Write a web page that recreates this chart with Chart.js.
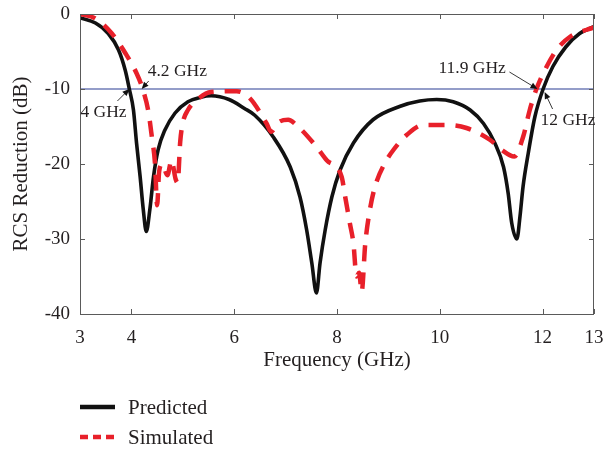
<!DOCTYPE html>
<html>
<head>
<meta charset="utf-8">
<script src="https://cdn.jsdelivr.net/npm/chart.js@4/dist/chart.umd.min.js"></script>
<style>
  html, body { margin: 0; padding: 0; background: #ffffff; }
  #wrap { width: 606px; height: 449px; }
</style>
</head>
<body>
<div id="wrap"><canvas id="c" width="606" height="449"></canvas></div>
<script>
// ---------------- data ----------------
const xTickValues = [3, 4, 6, 8, 10, 12, 13];
const yTickValues = [0, -10, -20, -30, -40];
const seriesNames = ['Predicted', 'Simulated'];

const predictedFreq = [3.00, 3.30, 3.55, 3.75, 3.88, 3.96, 4.04, 4.10, 4.17, 4.23, 4.29, 4.36, 4.43, 4.52, 4.65, 4.85, 5.10, 5.35, 5.55, 5.90, 6.20, 6.40, 6.76, 7.09, 7.28, 7.41, 7.51, 7.60, 7.67, 7.77, 7.90, 8.06, 8.32, 8.70, 9.23, 9.61, 9.94, 10.26, 10.59, 10.85, 11.07, 11.24, 11.33, 11.40, 11.50, 11.56, 11.62, 11.72, 11.85, 12.01, 12.20, 12.45, 12.72, 13.00];
const predictedDb   = [-0.5, -1.2, -2.6, -4.8, -7.5, -10.0, -12.8, -17.2, -21.7, -26.0, -29.0, -26.0, -21.7, -18.1, -15.5, -13.2, -11.7, -11.1, -10.9, -11.4, -12.6, -13.5, -16.4, -20.4, -24.4, -28.8, -33.2, -37.2, -33.2, -28.8, -24.4, -20.8, -17.2, -14.1, -12.3, -11.6, -11.4, -11.7, -12.8, -14.6, -17.2, -20.4, -23.9, -27.9, -30.0, -27.0, -23.0, -18.6, -13.7, -10.0, -7.0, -4.4, -2.6, -1.7];

const simulatedFreq = [3.00, 3.30, 3.62, 3.88, 4.10, 4.22, 4.33, 4.40, 4.46, 4.50, 4.54, 4.60, 4.70, 4.78, 4.86, 4.90, 4.95, 5.00, 5.10, 5.30, 5.55, 6.05, 6.30, 6.63, 6.72, 6.85, 7.05, 7.21, 7.60, 7.80, 8.09, 8.16, 8.25, 8.32, 8.38, 8.43, 8.48, 8.55, 8.64, 8.74, 8.93, 9.10, 9.36, 9.68, 10.13, 10.52, 10.98, 11.20, 11.45, 11.62, 11.75, 11.88, 12.08, 12.27, 12.54, 12.86, 13.00];
const simulatedDb   = [0.0, -0.6, -2.6, -5.2, -7.9, -10.0, -13.0, -16.5, -20.0, -25.5, -21.0, -20.0, -21.5, -19.5, -22.0, -22.5, -17.0, -14.5, -12.8, -11.3, -10.4, -10.3, -11.2, -14.6, -15.7, -14.5, -14.1, -14.8, -17.7, -19.5, -21.7, -24.4, -27.9, -30.6, -35.0, -34.5, -37.0, -30.6, -26.1, -23.0, -19.9, -18.1, -16.1, -14.8, -14.8, -15.2, -16.8, -18.1, -19.0, -16.4, -12.8, -10.0, -7.0, -4.8, -3.0, -2.1, -1.8];

const thresholdDb = -10;
const markerFreqs = [4.2, 4.0, 11.9, 12.0];
const markerLabels = ['4.2 GHz', '4 GHz', '11.9 GHz', '12 GHz'];

// ---------------- styles / layout ----------------
const FONT = '"Liberation Serif", "DejaVu Serif", serif';
const TEXT = '#231f20';
const AXIS = '#5a5a5a';
const BLACK = '#111111';
const RED = '#e8202a';
const BLUE = '#2b3c94';

// label offsets relative to the marker point (text anchor: left, middle), and arrow tail offsets
const markerStyle = [
  { tx: 6,   ty: -18, ax: 7,  ay: -8,  hx: 0,  hy: 0 },
  { tx: -49, ty: 23,  ax: -12, ay: 12, hx: -2, hy: 0 },
  { tx: -99, ty: -21, ax: -28, ay: -17, hx: 0, hy: 0 },
  { tx: -4,  ty: 28,  ax: 8,   ay: 17, hx: 2,  hy: 3 }
];

const toPts = (xs, ys) => xs.map((x, i) => ({ x: x, y: ys[i] }));

const overlay = {
  id: 'overlay',
  afterDatasetsDraw(chart) {
    const { ctx, chartArea: a, scales: { x, y } } = chart;
    ctx.save();
    // frame
    ctx.strokeStyle = AXIS;
    ctx.lineWidth = 1;
    ctx.strokeRect(Math.round(a.left) + 0.5, Math.round(a.top) + 0.5, Math.round(a.right - a.left) - 1, Math.round(a.bottom - a.top));
    // inward ticks
    const tl = 5;
    ctx.beginPath();
    xTickValues.forEach(v => {
      const px = Math.round(x.getPixelForValue(v)) + 0.5;
      ctx.moveTo(px, a.bottom); ctx.lineTo(px, a.bottom - tl);
      ctx.moveTo(px, a.top); ctx.lineTo(px, a.top + tl);
    });
    yTickValues.forEach(v => {
      const py = Math.round(y.getPixelForValue(v)) + 0.5;
      ctx.moveTo(a.left, py); ctx.lineTo(a.left + tl, py);
      ctx.moveTo(a.right, py); ctx.lineTo(a.right - tl, py);
    });
    ctx.stroke();

    // annotations
    ctx.font = '17.5px ' + FONT;
    ctx.fillStyle = TEXT;
    ctx.textBaseline = 'middle';
    ctx.textAlign = 'left';
    markerFreqs.forEach((f, i) => {
      const s = markerStyle[i];
      const px = x.getPixelForValue(f) + s.hx;
      const py = y.getPixelForValue(thresholdDb) + s.hy;
      ctx.fillText(markerLabels[i], px + s.tx, py + s.ty);
      const sx = px + s.ax, sy = py + s.ay;
      const ang = Math.atan2(py - sy, px - sx);
      ctx.strokeStyle = '#222';
      ctx.lineWidth = 0.9;
      ctx.beginPath();
      ctx.moveTo(sx, sy);
      ctx.lineTo(px - 5 * Math.cos(ang), py - 5 * Math.sin(ang));
      ctx.stroke();
      const hl = 7, hw = 3;
      ctx.fillStyle = '#111';
      ctx.beginPath();
      ctx.moveTo(px, py);
      ctx.lineTo(px - hl * Math.cos(ang) + hw * Math.sin(ang), py - hl * Math.sin(ang) - hw * Math.cos(ang));
      ctx.lineTo(px - hl * Math.cos(ang) - hw * Math.sin(ang), py - hl * Math.sin(ang) + hw * Math.cos(ang));
      ctx.closePath();
      ctx.fill();
      ctx.fillStyle = TEXT;
    });

    // legend
    const lx0 = 80, lx1 = 115, ly = [407, 437];
    ctx.lineCap = 'butt';
    ctx.lineWidth = 4.5;
    ctx.strokeStyle = BLACK;
    ctx.setLineDash([]);
    ctx.beginPath(); ctx.moveTo(lx0, ly[0]); ctx.lineTo(lx1, ly[0]); ctx.stroke();
    ctx.strokeStyle = RED;
    ctx.setLineDash([8, 5]);
    ctx.beginPath(); ctx.moveTo(lx0, ly[1]); ctx.lineTo(lx1 + 1, ly[1]); ctx.stroke();
    ctx.setLineDash([]);
    ctx.font = '21px ' + FONT;
    ctx.fillStyle = TEXT;
    ctx.fillText(seriesNames[0], 128, ly[0] + 1);
    ctx.fillText(seriesNames[1], 128, ly[1] + 1);
    ctx.restore();
  }
};

new Chart(document.getElementById('c'), {
  type: 'scatter',
  data: {
    datasets: [
      {
        label: seriesNames[1],
        data: toPts(simulatedFreq, simulatedDb),
        showLine: true, borderColor: RED, backgroundColor: RED,
        borderWidth: 4.5, borderDash: [16, 11], pointRadius: 0,
        cubicInterpolationMode: 'monotone', order: 1
      },
      {
        label: seriesNames[0],
        data: toPts(predictedFreq, predictedDb),
        showLine: true, borderColor: BLACK, backgroundColor: BLACK,
        borderWidth: 3.6, pointRadius: 0,
        cubicInterpolationMode: 'monotone', order: 2
      },
      {
        label: 'threshold',
        data: [{ x: xTickValues[0], y: thresholdDb }, { x: xTickValues[xTickValues.length - 1], y: thresholdDb }],
        showLine: true, borderColor: BLUE, borderWidth: 1.2, pointRadius: 0, order: 3
      }
    ]
  },
  options: {
    responsive: false,
    animation: false,
    events: [],
    layout: { padding: { left: 0, top: 14, right: 12, bottom: 75 } },
    plugins: { legend: { display: false }, tooltip: { enabled: false } },
    scales: {
      x: {
        type: 'linear',
        min: xTickValues[0], max: xTickValues[xTickValues.length - 1],
        afterBuildTicks: s => { s.ticks = xTickValues.map(v => ({ value: v })); },
        afterFit: s => { s.height = 60; s.paddingLeft = 0; s.paddingRight = 0; },
        grid: { display: false, drawTicks: false },
        border: { display: false },
        ticks: { font: { family: FONT, size: 19 }, color: TEXT, padding: 13, maxRotation: 0, autoSkip: false },
        title: { display: true, text: 'Frequency (GHz)', font: { family: FONT, size: 21 }, color: TEXT, padding: { top: 0, bottom: 1 } }
      },
      y: {
        min: yTickValues[yTickValues.length - 1], max: yTickValues[0],
        afterBuildTicks: s => { s.ticks = yTickValues.map(v => ({ value: v })); },
        afterFit: s => { s.width = 80; s.paddingTop = 0; s.paddingBottom = 0; },
        grid: { display: false, drawTicks: false },
        border: { display: false },
        ticks: { font: { family: FONT, size: 19 }, color: TEXT, padding: 10 },
        title: { display: true, text: 'RCS Reduction (dB)', font: { family: FONT, size: 21 }, color: TEXT, padding: { top: 9, bottom: 0 } }
      }
    }
  },
  plugins: [overlay]
});
</script>
</body>
</html>
